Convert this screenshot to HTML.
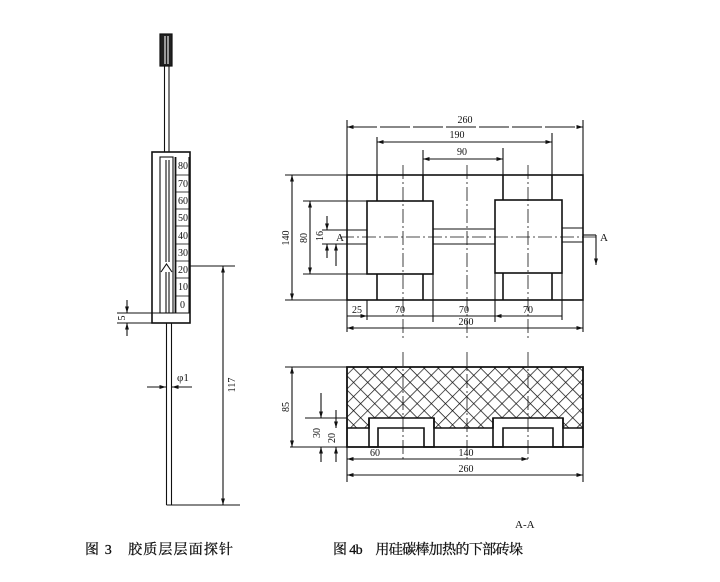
<!DOCTYPE html>
<html><head><meta charset="utf-8"><style>
html,body{margin:0;padding:0;background:#fff;}
svg{display:block;}
text{font-family:"Liberation Serif","Noto Serif CJK SC",serif;fill:#111;}
.cn{font-family:"Liberation Serif","Noto Serif CJK SC",serif;}
</style></head><body>
<svg width="720" height="582" viewBox="0 0 720 582" xmlns="http://www.w3.org/2000/svg">
<defs>
<pattern id="h" width="10" height="10" patternUnits="userSpaceOnUse" patternTransform="rotate(45)">
<path d="M0 0V10M0 0H10" stroke="#111" stroke-width="1.4" fill="none"/>
</pattern>
<marker id="a" viewBox="0 0 10 10" refX="10" refY="5" markerWidth="6" markerHeight="6" orient="auto-start-reverse"><path d="M0 2L10 5L0 8z" fill="#111"/></marker>
</defs>
<g stroke="#111" fill="none" stroke-width="1.1">
<!-- probe -->
<rect x="160" y="34" width="12" height="32" fill="#222" stroke-width="1.2"/>
<line x1="165" y1="36" x2="165" y2="64" stroke="#fff"/>
<line x1="168" y1="36" x2="168" y2="64" stroke="#fff"/>
<line x1="164.5" y1="66" x2="164.5" y2="152"/>
<line x1="169" y1="66" x2="169" y2="152"/>
<rect x="152" y="152" width="38" height="171" stroke-width="1.6"/>
<line x1="117" y1="313" x2="190" y2="313"/>
<rect x="160" y="157" width="13" height="156"/>
<line x1="166" y1="160" x2="166" y2="262"/>
<line x1="169" y1="160" x2="169" y2="262"/>
<path d="M161 272 L166.5 264 L172 272"/>
<line x1="166" y1="272" x2="166" y2="313"/>
<line x1="169" y1="272" x2="169" y2="313"/>
<line x1="175.5" y1="157" x2="175.5" y2="313" stroke-width="1.8"/>
<line x1="189" y1="157" x2="189" y2="313"/>
<g stroke-width="0.8">
<line x1="175" y1="175" x2="189" y2="175"/><line x1="175" y1="192" x2="189" y2="192"/>
<line x1="175" y1="209" x2="189" y2="209"/><line x1="175" y1="226" x2="189" y2="226"/>
<line x1="175" y1="244" x2="189" y2="244"/><line x1="175" y1="261" x2="189" y2="261"/>
<line x1="175" y1="278" x2="189" y2="278"/><line x1="175" y1="296" x2="189" y2="296"/>
</g>
<line x1="166.5" y1="323" x2="166.5" y2="505"/>
<line x1="171.5" y1="323" x2="171.5" y2="505"/>
<line x1="166.5" y1="505" x2="240" y2="505"/>
<line x1="189" y1="266" x2="235" y2="266"/>
<line x1="223" y1="266" x2="223" y2="505" marker-start="url(#a)" marker-end="url(#a)"/>
<line x1="147" y1="387" x2="166" y2="387" marker-end="url(#a)"/>
<line x1="192" y1="387" x2="172" y2="387" marker-end="url(#a)"/>
<line x1="117" y1="323" x2="152" y2="323"/>
<line x1="127" y1="300" x2="127" y2="313" marker-end="url(#a)"/>
<line x1="127" y1="336" x2="127" y2="323" marker-end="url(#a)"/>

<!-- plan view -->
<rect x="347" y="175" width="236" height="125" stroke-width="1.6"/>
<rect x="367" y="201" width="66" height="73" stroke-width="1.6"/>
<rect x="495" y="200" width="67" height="73" stroke-width="1.6"/>
<line x1="347" y1="230" x2="367" y2="230"/><line x1="347" y1="244" x2="367" y2="244"/>
<line x1="433" y1="229" x2="495" y2="229"/><line x1="433" y1="244" x2="495" y2="244"/>
<line x1="562" y1="228" x2="583" y2="228"/><line x1="562" y1="242" x2="583" y2="242"/>
<line x1="377" y1="175" x2="377" y2="201" stroke-width="1.6"/><line x1="423" y1="175" x2="423" y2="201" stroke-width="1.6"/>
<line x1="377" y1="274" x2="377" y2="300" stroke-width="1.6"/><line x1="423" y1="274" x2="423" y2="300" stroke-width="1.6"/>
<line x1="503" y1="175" x2="503" y2="200" stroke-width="1.6"/><line x1="552" y1="175" x2="552" y2="200" stroke-width="1.6"/>
<line x1="503" y1="273" x2="503" y2="300" stroke-width="1.6"/><line x1="552" y1="273" x2="552" y2="300" stroke-width="1.6"/>
<g stroke-dasharray="14 3 2 3" stroke-width="0.8">
<line x1="403" y1="165" x2="403" y2="340"/>
<line x1="467" y1="165" x2="467" y2="340"/>
<line x1="528" y1="165" x2="528" y2="340"/>
<line x1="340" y1="237" x2="596" y2="237"/>
</g>
<line x1="347" y1="120" x2="347" y2="175"/><line x1="583" y1="120" x2="583" y2="175"/>
<line x1="377" y1="137" x2="377" y2="175"/><line x1="552" y1="133" x2="552" y2="175"/>
<line x1="423" y1="150" x2="423" y2="175"/><line x1="503" y1="148" x2="503" y2="175"/>
<line x1="347" y1="127" x2="583" y2="127" marker-start="url(#a)" marker-end="url(#a)" stroke-dasharray="30 3"/>
<line x1="377" y1="142" x2="552" y2="142" marker-start="url(#a)" marker-end="url(#a)"/>
<line x1="423" y1="159" x2="503" y2="159" marker-start="url(#a)" marker-end="url(#a)"/>
<line x1="285" y1="175" x2="347" y2="175"/><line x1="285" y1="300" x2="347" y2="300"/>
<line x1="292" y1="175" x2="292" y2="300" marker-start="url(#a)" marker-end="url(#a)"/>
<line x1="303" y1="201" x2="367" y2="201"/><line x1="303" y1="274" x2="367" y2="274"/>
<line x1="310" y1="201" x2="310" y2="274" marker-start="url(#a)" marker-end="url(#a)"/>
<line x1="322" y1="230" x2="347" y2="230"/><line x1="322" y1="244" x2="347" y2="244"/>
<line x1="327" y1="216" x2="327" y2="230" marker-end="url(#a)"/>
<line x1="327" y1="258" x2="327" y2="244" marker-end="url(#a)"/>
<line x1="336" y1="244" x2="336" y2="266" marker-start="url(#a)"/>
<line x1="583" y1="235" x2="596" y2="235"/>
<line x1="596" y1="235" x2="596" y2="265" marker-end="url(#a)"/>
<line x1="347" y1="300" x2="347" y2="332"/><line x1="367" y1="300" x2="367" y2="320"/>
<line x1="433" y1="274" x2="433" y2="322"/><line x1="495" y1="273" x2="495" y2="322"/>
<line x1="562" y1="273" x2="562" y2="320"/><line x1="583" y1="300" x2="583" y2="332"/>
<line x1="347" y1="316" x2="562" y2="316"/>
<line x1="347" y1="316" x2="367" y2="316" marker-end="url(#a)"/>
<line x1="562" y1="316" x2="495" y2="316" marker-end="url(#a)"/>
<line x1="347" y1="328" x2="583" y2="328" marker-start="url(#a)" marker-end="url(#a)"/>

<!-- section -->
<path d="M347 367H583V428H563V418H493V428H434V418H369V428H347Z" fill="url(#h)" stroke="none"/>
<path d="M347 367H583V447H347Z" stroke-width="1.8"/>
<path d="M347 428H369V418H434V428H493V418H563V428H583" stroke-width="1.6"/>
<path d="M369 418V447H378V428H424V447H434V418" stroke-width="1.6"/>
<path d="M493 418V447H503V428H553V447H563V418" stroke-width="1.6"/>
<g stroke-dasharray="14 3 2 3" stroke-width="0.8">
<line x1="403" y1="352" x2="403" y2="462"/>
<line x1="467" y1="352" x2="467" y2="462"/>
<line x1="528" y1="352" x2="528" y2="462"/>
</g>
<line x1="285" y1="367" x2="347" y2="367"/>
<line x1="292" y1="367" x2="292" y2="447" marker-start="url(#a)" marker-end="url(#a)"/>
<line x1="305" y1="418" x2="347" y2="418"/><line x1="290" y1="447" x2="347" y2="447"/>
<line x1="321" y1="393" x2="321" y2="418" marker-end="url(#a)"/>
<line x1="321" y1="462" x2="321" y2="447" marker-end="url(#a)"/>
<line x1="336" y1="410" x2="336" y2="428" marker-end="url(#a)"/>
<line x1="336" y1="462" x2="336" y2="447" marker-end="url(#a)"/>
<line x1="347" y1="447" x2="347" y2="482"/><line x1="583" y1="447" x2="583" y2="482"/>
<line x1="347" y1="459" x2="528" y2="459" marker-start="url(#a)" marker-end="url(#a)"/>
<line x1="347" y1="475" x2="583" y2="475" marker-start="url(#a)" marker-end="url(#a)"/>
</g>
<g font-size="10">
<text x="178" y="169">80</text><text x="178" y="187">70</text><text x="178" y="204">60</text>
<text x="178" y="221">50</text><text x="178" y="239">40</text><text x="178" y="256">30</text>
<text x="178" y="273">20</text><text x="178" y="290">10</text><text x="180" y="308">0</text>
<text x="177" y="381" font-size="11">φ1</text>
<text transform="translate(235,385) rotate(-90)" text-anchor="middle">117</text>
<text transform="translate(125,318) rotate(-90)" text-anchor="middle">5</text>
<text x="465" y="123" text-anchor="middle">260</text>
<text x="457" y="138" text-anchor="middle">190</text>
<text x="462" y="155" text-anchor="middle">90</text>
<text transform="translate(289,238) rotate(-90)" text-anchor="middle">140</text>
<text transform="translate(307,238) rotate(-90)" text-anchor="middle">80</text>
<text transform="translate(323,236) rotate(-90)" text-anchor="middle">16</text>
<text x="336" y="241" font-size="11">A</text>
<text x="600" y="241" font-size="11">A</text>
<text x="357" y="313" text-anchor="middle">25</text>
<text x="400" y="313" text-anchor="middle">70</text>
<text x="464" y="313" text-anchor="middle">70</text>
<text x="528" y="313" text-anchor="middle">70</text>
<text x="466" y="325" text-anchor="middle">260</text>
<text transform="translate(289,407) rotate(-90)" text-anchor="middle">85</text>
<text transform="translate(320,433) rotate(-90)" text-anchor="middle">30</text>
<text transform="translate(335,438) rotate(-90)" text-anchor="middle">20</text>
<text x="375" y="456" text-anchor="middle">60</text>
<text x="466" y="456" text-anchor="middle">140</text>
<text x="466" y="472" text-anchor="middle">260</text>
<text x="515" y="528" font-size="11">A-A</text>
</g>
<g font-size="14" stroke="#111" stroke-width="0.3">
<text x="85" y="554" class="cn" textLength="148" lengthAdjust="spacing">图 3　胶质层层面探针</text>
<text x="333" y="554" class="cn" textLength="190" lengthAdjust="spacing">图 4b　用硅碳棒加热的下部砖垛</text>
</g>
</svg>
</body></html>
